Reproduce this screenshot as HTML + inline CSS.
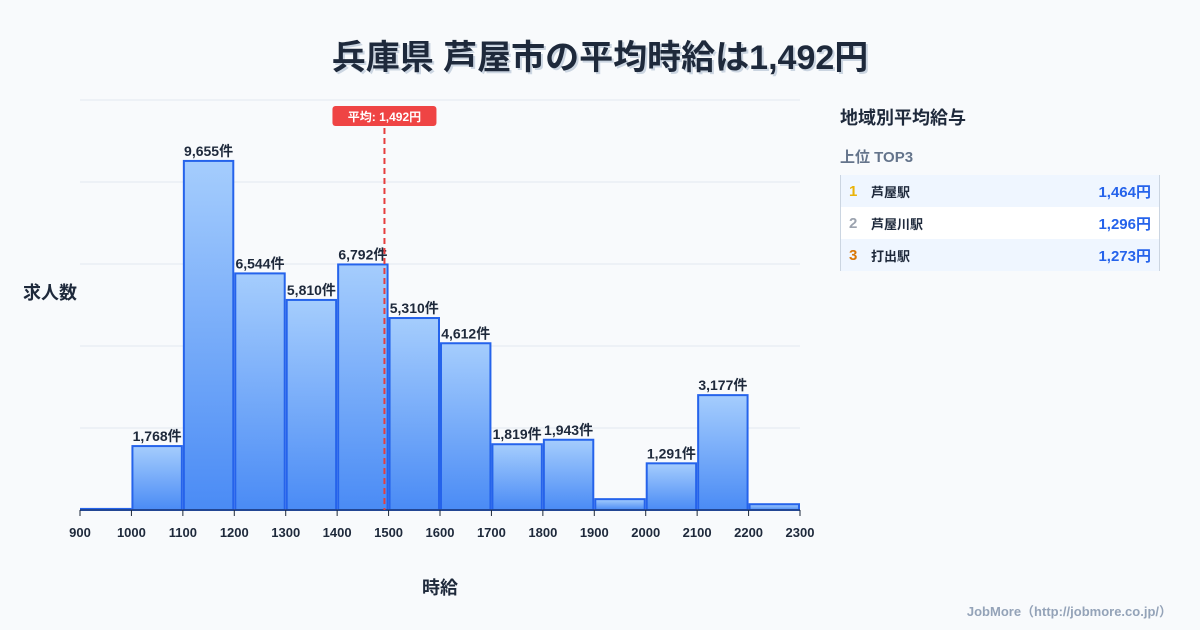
<!DOCTYPE html>
<html><head><meta charset="utf-8"><style>
body{margin:0;width:1200px;height:630px;background:#f8fafc;font-family:"Liberation Sans","Noto Sans CJK JP",sans-serif;overflow:hidden;position:relative}
.title{position:absolute;top:30px;left:0;width:1200px;text-align:center;font-size:34px;font-weight:bold;color:#1e293b;text-shadow:2px 2px 0 #cbd5e1}
.side{position:absolute;left:840px;top:104px;width:320px}
.side h3{margin:0;font-size:18px;color:#1e293b;font-weight:bold}
.side .sub{margin-top:16px;font-size:15px;color:#64748b;font-weight:bold}
.tbl{margin-top:8px;border-left:1px solid #cbd5e1;border-right:1px solid #cbd5e1}
.row{height:32px;display:flex;align-items:center;padding:0 8px;font-size:13px;color:#1e293b}
.row:nth-child(odd){background:#eff6ff}.row:nth-child(even){background:#fff}
.rk{width:22px;font-size:15px;font-weight:bold}
.nm{flex:1;font-weight:bold}
.val{color:#2563eb;font-weight:bold;font-size:15px}
.foot{position:absolute;right:28px;bottom:10px;font-size:13px;color:#94a3b8;font-weight:bold}
</style></head><body>
<div class="title">兵庫県 芦屋市の平均時給は1,492円</div>
<svg id="chart" width="830" height="630" style="position:absolute;left:0;top:0"></svg>
<div class="side">
<h3>地域別平均給与</h3>
<div class="sub">上位 TOP3</div>
<div class="tbl">
<div class="row"><span class="rk" style="color:#eab308">1</span><span class="nm">芦屋駅</span><span class="val">1,464円</span></div>
<div class="row"><span class="rk" style="color:#9ca3af">2</span><span class="nm">芦屋川駅</span><span class="val">1,296円</span></div>
<div class="row"><span class="rk" style="color:#d97706">3</span><span class="nm">打出駅</span><span class="val">1,273円</span></div>
</div></div>
<div class="foot">JobMore（http://jobmore.co.jp/）</div>
<script>
const binStarts=[900,1000,1100,1200,1300,1400,1500,1600,1700,1800,1900,2000,2100,2200];
const counts=[30,1768,9655,6544,5810,6792,5310,4612,1819,1943,300,1291,3177,160];
const labeled=[false,true,true,true,true,true,true,true,true,true,false,true,true,false];
const xTicks=[900,1000,1100,1200,1300,1400,1500,1600,1700,1800,1900,2000,2100,2200,2300];
const avg=1492;
const NS="http://www.w3.org/2000/svg",svg=document.getElementById('chart');
const X0=80,X1=800,Y0=510,Y1=100,yMax=11340;
const x=v=>X0+(v-900)/(2300-900)*(X1-X0);
const y=v=>Y0-v/yMax*(Y0-Y1);
function mk(t,a,txt){const e=document.createElementNS(NS,t);for(const k in a)e.setAttribute(k,a[k]);if(txt!=null)e.textContent=txt;svg.appendChild(e);return e;}
const defs=mk('defs',{});defs.innerHTML='<linearGradient id="g" x1="0" y1="0" x2="0" y2="1"><stop offset="0" stop-color="#a5cdfd"/><stop offset="1" stop-color="#4a8bf5"/></linearGradient>';
for(let i=0;i<=5;i++){const g=mk('line',{x1:X0,x2:X1,y1:y(yMax*i/5),y2:y(yMax*i/5),stroke:'#e2e8f0','stroke-width':1});
}
binStarts.forEach((b,i)=>{const r=mk('rect',{x:x(b)+1,y:y(counts[i]),width:x(b+100)-x(b)-2,height:Y0-y(counts[i]),fill:'url(#g)',stroke:'#2563eb','stroke-width':2});

if(labeled[i]){const t=mk('text',{x:(x(b)+x(b+100))/2,y:y(counts[i])-5,'text-anchor':'middle','font-size':14,'font-weight':'bold',fill:'#1e293b'},counts[i].toLocaleString('en-US')+'件');
}});
mk('line',{x1:X0,x2:X1,y1:Y0,y2:Y0,stroke:'#1e293b','stroke-width':1});
xTicks.forEach(v=>{mk('line',{x1:x(v),x2:x(v),y1:Y0,y2:Y0+6,stroke:'#1e293b'});
const t=mk('text',{x:x(v),y:537,'text-anchor':'middle','font-size':13,'font-weight':'bold',fill:'#1e293b'},v);
});
const al=mk('line',{x1:x(avg),x2:x(avg),y1:128,y2:Y0,stroke:'#e53e3e','stroke-width':2,'stroke-dasharray':'6,4'});

mk('rect',{x:x(avg)-52,y:106,width:104,height:20,rx:3,fill:'#ef4444'});
const at=mk('text',{x:x(avg),y:121,'text-anchor':'middle','font-size':12,'font-weight':'bold',fill:'#fff'},'平均: 1,492円');

const yt=mk('text',{x:50,y:299,'text-anchor':'middle','font-size':18,'font-weight':'bold',fill:'#1e293b'},'求人数');

const xt=mk('text',{x:440,y:594,'text-anchor':'middle','font-size':18,'font-weight':'bold',fill:'#1e293b'},'時給');

</script>
</body></html>
